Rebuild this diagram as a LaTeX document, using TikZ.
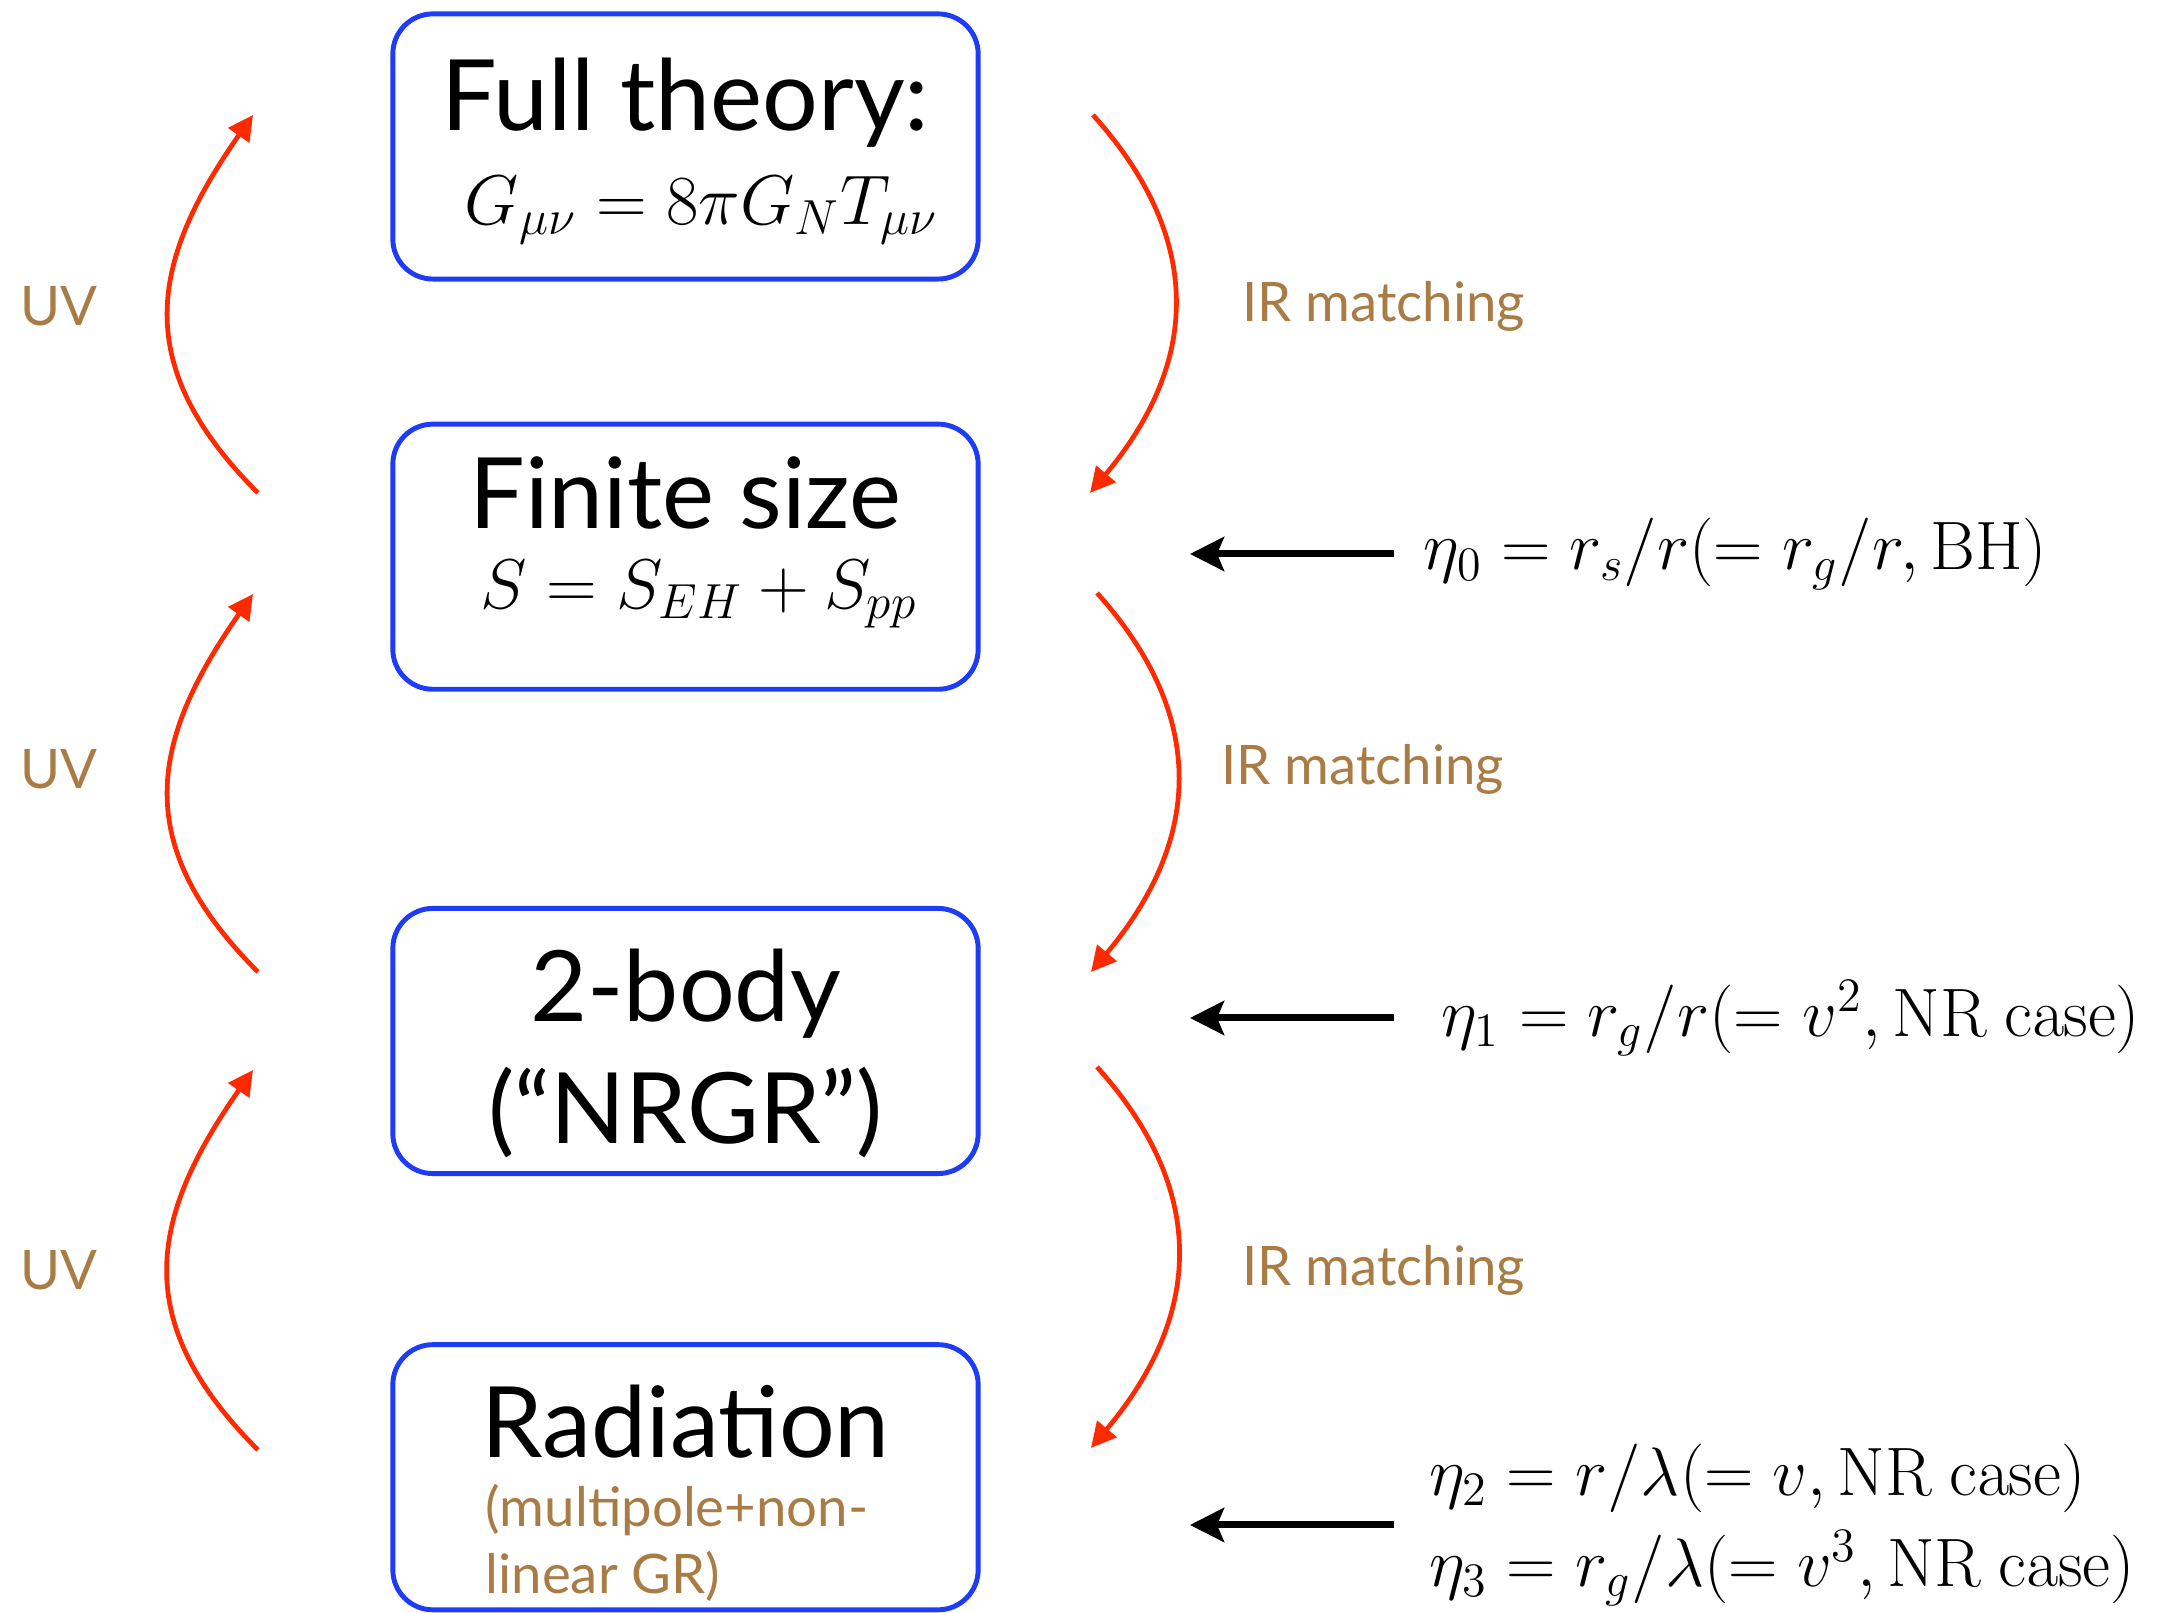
\RequirePackage{fix-cm}
\documentclass[tikz,border=0pt]{standalone}
\usepackage[no-math]{fontspec}
\setmainfont{Lato}
\usetikzlibrary{arrows.meta,positioning}
\definecolor{BoxBlue}{HTML}{1E3CF5}
\definecolor{ArcRed}{HTML}{FF2A00}
\definecolor{Tan}{HTML}{A97C46}

\begin{document}
\begin{tikzpicture}[x=0.01cm, y=0.01cm,
  ebox/.style={draw=BoxBlue, line width=1.4pt, rounded corners=0.4cm, outer sep=0pt,
               minimum width=5.85cm, minimum height=2.65cm},
  ttl/.style={anchor=base, font=\fontsize{28}{34}\selectfont},
  eqn/.style={anchor=base, font=\fontsize{20}{24}\selectfont},
  note/.style={text=Tan, font=\fontsize{15.5}{19}\selectfont},
  uv/.style={-{Triangle[length=0.25cm,width=0.25cm]}, color=ArcRed, line width=1.35pt,
             out=135, in=235, looseness=1.22},
  ir/.style={-{Triangle[length=0.25cm,width=0.25cm]}, color=ArcRed, line width=1.35pt,
             out=-48, in=50, looseness=1.14},
  tobox/.style={-{Stealth[length=0.34cm,width=0.34cm,inset=0.07cm]}, line width=2pt},
  param/.style={anchor=west, font=\fontsize{19.5}{26}\selectfont, align=left}
]
  \useasboundingbox (0,0) rectangle (2165,1613);

  % the four levels
  \node[ebox] (full) at (685.5,1466.5) {};
  \node[ebox, below=1.45cm of full] (fin) {};
  \node[ebox, below=2.19cm of fin] (two) {};
  \node[ebox, below=1.71cm of two] (rad) {};

  \node[ttl] (fullT) at ([yshift=-1.17cm]full.north) {Full theory:};
  \node[eqn] (fullE) at ([xshift=0.16cm,yshift=-2.10cm]full.north) {$G_{\mu\nu} = 8\pi G_N T_{\mu\nu}$};
  \node[ttl] (finT) at ([yshift=-1.04cm]fin.north) {Finite size};
  \node[eqn] (finE) at ([xshift=0.13cm,yshift=-1.84cm]fin.north) {$S = S_{EH} + S_{pp}$};
  \node[ttl] (twoT) at ([yshift=-1.13cm]two.north) {2-body};
  \node[ttl] (twoS) at ([yshift=-2.35cm]two.north) {(“NRGR”)};
  \node[ttl] (radT) at ([yshift=-1.13cm]rad.north) {Radiation};
  \node[note, anchor=base west] (radN1) at ([xshift=-2.12cm,yshift=-1.82cm]rad.north) {(multipole+non-};
  \node[note, anchor=base west] (radN2) at ([xshift=-2.12cm,yshift=-2.49cm]rad.north) {linear GR)};

  % UV side
  \coordinate (uv1a) at (258,1120); \coordinate (uv1b) at (253,1498);
  \coordinate (uv2a) at (258,641);  \coordinate (uv2b) at (253,1019);
  \coordinate (uv3a) at (258,163);  \coordinate (uv3b) at (253,543);
  \draw[uv] (uv1a) to (uv1b);
  \draw[uv] (uv2a) to (uv2b);
  \draw[uv] (uv3a) to (uv3b);
  \node[note] (uv1) at (59,1307) {UV};
  \node[note] (uv2) at (59,844) {UV};
  \node[note] (uv3) at (59,343) {UV};

  % IR side
  \coordinate (ir1a) at (1093,1498); \coordinate (ir1b) at (1090,1120);
  \coordinate (ir2a) at (1097,1020); \coordinate (ir2b) at (1091,641);
  \coordinate (ir3a) at (1097,546);  \coordinate (ir3b) at (1091,165);
  \draw[ir] (ir1a) to (ir1b);
  \draw[ir] (ir2a) to (ir2b);
  \draw[ir] (ir3a) to (ir3b);
  \node[note, anchor=west] (ir1) at (1230,1307) {IR matching};
  \node[note, anchor=west] (ir2) at (1209,844) {IR matching};
  \node[note, anchor=west] (ir3) at (1230,343) {IR matching};

  % expansion parameters
  \node[param, inner xsep=8.3pt] (eta0) at (1394,1059) {$\eta_0 = r_s/r(= r_g/r, \mathrm{BH})$};
  \node[param, inner xsep=13.4pt] (eta1) at (1394,595) {$\eta_1 = r_g/r(= v^2, \mathrm{NR\ case})$};
  \node[param, inner xsep=9.9pt] (eta23) at (1394,88) {$\eta_2 = r/\lambda(= v, \mathrm{NR\ case})$\\$\eta_3 = r_g/\lambda(= v^3, \mathrm{NR\ case})$};
  \coordinate (k0) at (1190,1059);
  \coordinate (k1) at (1190,595);
  \coordinate (k2) at (1190,88);
  \draw[tobox] (eta0.west) -- (k0);
  \draw[tobox] (eta1.west) -- (k1);
  \draw[tobox] (eta23.west) -- (k2);
\end{tikzpicture}
\end{document}
